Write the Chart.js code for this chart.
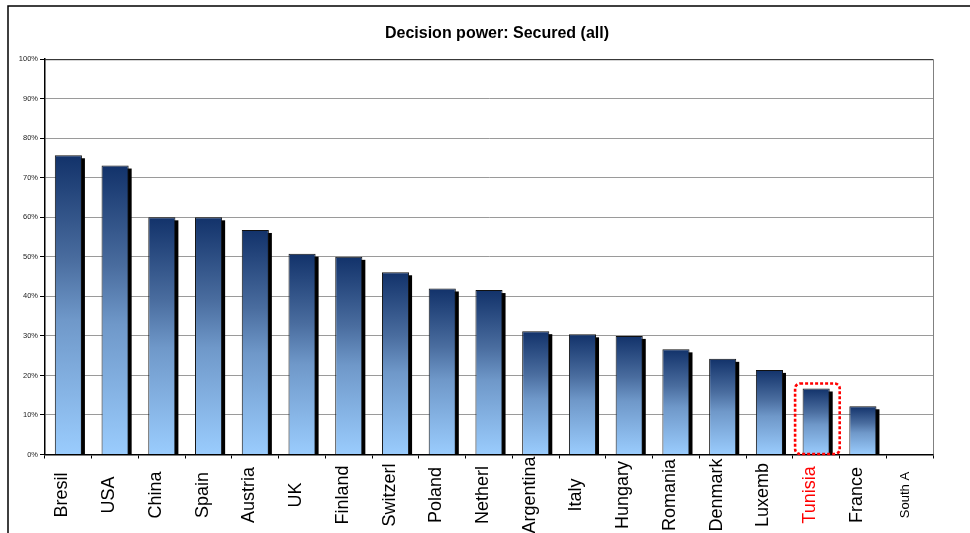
<!DOCTYPE html>
<html>
<head>
<meta charset="utf-8">
<script src="https://cdn.jsdelivr.net/npm/chart.js@4.4.1/dist/chart.umd.min.js"></script>
<style>
  html, body { margin: 0; padding: 0; background: #fff; }
  canvas { display: block; }
</style>
</head>
<body>
<canvas id="c" width="970" height="533"></canvas>
<script>
// ---- data ----
const categories = ['Bresil','USA','China','Spain','Austria','UK','Finland','Switzerl','Poland','Netherl','Argentina','Italy','Hungary','Romania','Denmark','Luxemb','Tunisia','France','South A'];
const securedPct = [75.7, 73.1, 60.0, 60.0, 56.8, 50.8, 50.0, 46.1, 42.0, 41.6, 31.2, 30.4, 30.0, 26.6, 24.2, 21.4, 16.7, 12.2, null];
const yTicks = [0, 10, 20, 30, 40, 50, 60, 70, 80, 90, 100];
const chartTitle = 'Decision power: Secured (all)';
const highlighted = 'Tunisia';
const smallLabel = 'South A';

const FONT = '"Liberation Sans", Arial, Helvetica, sans-serif';

function barGradient(context) {
  const chart = context.chart;
  const y = chart.scales && chart.scales.y;
  const area = chart.chartArea;
  const v = context.raw;
  if (!y || !area || v == null) return '#5a80b4';
  const top = y.getPixelForValue(v);
  const bottom = y.getPixelForValue(0);
  if (!isFinite(top) || !isFinite(bottom) || bottom - top < 1) return '#5a80b4';
  const g = chart.ctx.createLinearGradient(0, top, 0, bottom);
  g.addColorStop(0, '#12326a');
  g.addColorStop(0.35, '#4a6d9f');
  g.addColorStop(0.55, '#6f98c9');
  g.addColorStop(1, '#9accfd');
  return g;
}

const framePlugin = {
  id: 'frame',
  beforeDraw(chart) {
    const ctx = chart.ctx;
    ctx.save();
    ctx.fillStyle = '#fff';
    ctx.fillRect(0, 0, chart.width, chart.height);
    ctx.strokeStyle = '#000';
    ctx.lineWidth = 1.5;
    ctx.beginPath();
    ctx.moveTo(8, chart.height + 2);
    ctx.lineTo(8, 6);
    ctx.lineTo(chart.width + 2, 6);
    ctx.stroke();
    ctx.restore();
  },
  beforeDatasetsDraw(chart) {
    // bar drop shadows
    const ctx = chart.ctx;
    const meta = chart.getDatasetMeta(0);
    const a = chart.chartArea;
    ctx.save();
    ctx.beginPath();
    ctx.rect(a.left, a.top, a.right - a.left, a.bottom - a.top);
    ctx.clip();
    ctx.fillStyle = '#000';
    meta.data.forEach((el, i) => {
      if (securedPct[i] == null) return;
      const w = el.width;
      ctx.fillRect(el.x - w / 2 + 3, el.y + 3, w, el.base - el.y - 3);
    });
    ctx.restore();
  },
  afterDraw(chart) {
    const ctx = chart.ctx;
    const a = chart.chartArea;
    const xs = chart.scales.x;
    ctx.save();
    // plot area top & right border
    ctx.strokeStyle = '#222';
    ctx.lineWidth = 1;
    ctx.beginPath();
    ctx.moveTo(a.left, a.top + 0.5);
    ctx.lineTo(a.right, a.top + 0.5);
    ctx.stroke();
    ctx.strokeStyle = '#808080';
    ctx.beginPath();
    ctx.moveTo(a.right + 0.5, a.top);
    ctx.lineTo(a.right + 0.5, a.bottom);
    ctx.stroke();

    // category labels, rotated and centred below the axis
    categories.forEach((lab, i) => {
      const x = xs.getPixelForValue(i);
      ctx.save();
      ctx.translate(x - 1, 495);
      ctx.rotate(-Math.PI / 2);
      ctx.textAlign = 'center';
      ctx.textBaseline = 'alphabetic';
      const size = lab === smallLabel ? 13 : 18;
      ctx.font = size + 'px ' + FONT;
      ctx.fillStyle = lab === highlighted ? '#ff0000' : '#000';
      ctx.fillText(lab, 0, 0);
      ctx.restore();
    });

    // red dotted highlight box around the highlighted bar
    const hi = categories.indexOf(highlighted);
    const el = chart.getDatasetMeta(0).data[hi];
    if (el) {
      const l = el.x - el.width / 2 - 7.5;
      const r = el.x + el.width / 2 + 10;
      const t = el.y - 5;
      const b = el.base;
      const rad = 5;
      ctx.strokeStyle = '#ff0000';
      ctx.lineWidth = 2.6;
      ctx.setLineDash([3, 2]);
      ctx.beginPath();
      ctx.moveTo(l + rad, t);
      ctx.lineTo(r - rad, t);
      ctx.arcTo(r, t, r, t + rad, rad);
      ctx.lineTo(r, b - rad);
      ctx.arcTo(r, b, r - rad, b, rad);
      ctx.lineTo(l + rad, b);
      ctx.arcTo(l, b, l, b - rad, rad);
      ctx.lineTo(l, t + rad);
      ctx.arcTo(l, t, l + rad, t, rad);
      ctx.closePath();
      ctx.stroke();
    }
    ctx.restore();
  }
};

new Chart(document.getElementById('c'), {
  type: 'bar',
  data: {
    labels: categories,
    datasets: [{
      data: securedPct,
      backgroundColor: barGradient,
      borderColor: '#111',
      borderWidth: 1,
      barPercentage: 0.58,
      categoryPercentage: 1
    }]
  },
  options: {
    responsive: false,
    animation: false,
    layout: { padding: { left: 14, right: -10, top: 0, bottom: 0 } },
    plugins: {
      legend: { display: false },
      tooltip: { enabled: false },
      title: {
        display: true,
        text: chartTitle,
        color: '#000',
        font: { family: FONT, size: 16, weight: 'bold', lineHeight: 1.2 },
        padding: { top: 24, bottom: 16 }
      }
    },
    scales: {
      x: {
        grid: {
          display: true,
          offset: true,
          drawOnChartArea: false,
          drawTicks: true,
          tickLength: 4,
          tickColor: '#000',
          tickWidth: 1
        },
        border: { display: true, color: '#000', width: 1.5 },
        ticks: { display: false },
        afterFit(scale) { scale.height = 78.5; }
      },
      y: {
        min: 0,
        max: 100,
        afterBuildTicks(scale) { scale.ticks = yTicks.map(v => ({ value: v })); },
        grid: {
          color: '#9a9a9a',
          lineWidth: 1,
          borderDash: [1, 1],
          drawTicks: true,
          tickLength: 5,
          tickColor: '#000',
          tickWidth: 1,
          tickBorderDash: []
        },
        border: { display: true, color: '#000', width: 1.5 },
        ticks: {
          color: '#222',
          padding: 2,
          font: { family: FONT, size: 7.5 },
          callback: v => v + '%'
        },
        afterFit(scale) { scale.width = 31; }
      },
      yRight: {
        position: 'right',
        display: true,
        grid: { display: false, drawTicks: false },
        border: { display: false },
        ticks: { display: false },
        afterFit(scale) { scale.width = 47; }
      }
    }
  },
  plugins: [framePlugin]
});
</script>
</body>
</html>
